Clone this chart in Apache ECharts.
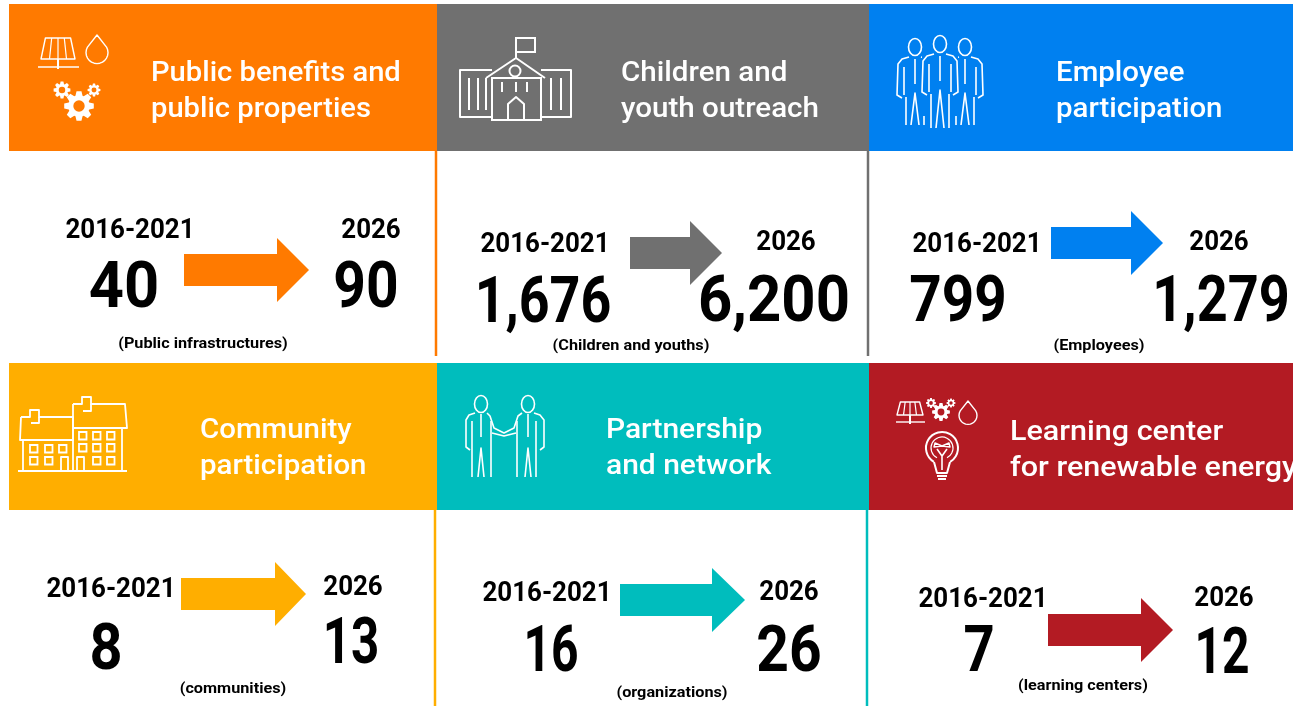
<!DOCTYPE html>
<html>
<head>
<meta charset="utf-8">
<title>Targets</title>
<script src="https://cdn.jsdelivr.net/npm/echarts@6/dist/echarts.min.js"></script>
<style>
  html, body { margin: 0; padding: 0; background: #fff; }
  #container { width: 1293px; height: 706px; }
</style>
</head>
<body>
<div id="container"></div>
<script>
// values
var titles = [
  ['Public benefits and', 'public properties'],
  ['Children and', 'youth outreach'],
  ['Employee', 'participation'],
  ['Community', 'participation'],
  ['Partnership', 'and network'],
  ['Learning center', 'for renewable energy']
];
var baselinePeriod = '2016-2021';
var targetPeriod = '2026';
var baselineValues = ['40', '1,676', '799', '8', '16', '7'];
var targetValues = ['90', '6,200', '1,279', '13', '26', '12'];
var units = ['(Public infrastructures)', '(Children and youths)', '(Employees)', '(communities)', '(organizations)', '(learning centers)'];

var colors = ['#ff7a00', '#707070', '#0080f0', '#ffae00', '#00bdbd', '#b31b23'];

// layout, px
var headers = [[9, 4, 428, 147], [437, 4, 432, 147], [869, 4, 424, 147], [9, 363, 428, 147], [437, 363, 432, 147], [869, 363, 424, 147]];
var titlePos = [[151, 74], [621, 74], [1056, 74], [200, 431], [606, 431], [1010, 433]];
var basePeriodPos = [[130, 231], [545, 245], [977, 245], [111, 590], [547, 594], [983, 600]];
var targetPeriodPos = [[371, 231], [786, 243], [1219, 243], [353, 588], [789, 593], [1224, 599]];
var baseValuePos = [[124, 291], [543, 306], [958, 305], [106, 653], [551, 655], [979, 655]];
var targetValuePos = [[366, 291], [774, 305], [1221, 305], [351, 647], [789, 655], [1222, 657]];
var unitPos = [[203, 344], [631, 346], [1099, 346], [233, 689], [672, 693], [1083, 686]];
// the font is wider than the original one, so every string gets its own squeeze
var titleScale = [1.08, 1.095, 1.09, 1.09, 1.11, 1.13];
var baseValueScale = [0.96, 0.84, 0.885, 0.9, 0.75, 0.85];
var targetValueScale = [0.89, 0.935, 0.845, 0.77, 0.89, 0.75];
// x start, x shaft end, x tip, y centre
var arrows = [[184, 277, 309, 270], [630, 690, 722, 253], [1051, 1131, 1163, 243], [181, 275, 306, 594], [620, 712, 745, 600], [1048, 1141, 1173, 630]];
// x, y top, y bottom, colour index
var dividers = [[436, 151, 356, 0], [868, 151, 356, 1], [435, 510, 706, 3], [867, 510, 706, 4]];

var els = [];

function text(str, x, y, size, weight, color, align, sx) {
  els.push({
    type: 'text',
    x: x, y: y,
    scaleX: sx || 1,
    style: {
      text: str, x: 0, y: 0,
      font: weight + ' ' + size + 'px Roboto',
      fill: color, textAlign: align || 'center', textVerticalAlign: 'middle'
    }
  });
}

function line(points, closed, width, smooth) {
  els.push({
    type: closed ? 'polygon' : 'polyline',
    shape: { points: points, smooth: smooth || 0 },
    style: { stroke: '#fff', fill: null, lineWidth: width || 1.6, lineJoin: 'round' }
  });
}

function circle(cx, cy, r, width) {
  els.push({ type: 'circle', shape: { cx: cx, cy: cy, r: r }, style: { stroke: '#fff', fill: null, lineWidth: width || 1.6 } });
}

function rect(x, y, w, h, width) {
  els.push({ type: 'rect', shape: { x: x, y: y, width: w, height: h }, style: { stroke: '#fff', fill: null, lineWidth: width || 1.6 } });
}

function gear(cx, cy, r, bg) {
  var teeth = 8, pts = [];
  for (var i = 0; i < teeth; i++) {
    var a = i * 2 * Math.PI / teeth;
    var s = Math.PI / teeth;
    pts.push([cx + r * 0.72 * Math.cos(a - s * 0.85), cy + r * 0.72 * Math.sin(a - s * 0.85)]);
    pts.push([cx + r * Math.cos(a - s * 0.42), cy + r * Math.sin(a - s * 0.42)]);
    pts.push([cx + r * Math.cos(a + s * 0.42), cy + r * Math.sin(a + s * 0.42)]);
    pts.push([cx + r * 0.72 * Math.cos(a + s * 0.85), cy + r * 0.72 * Math.sin(a + s * 0.85)]);
  }
  els.push({ type: 'polygon', shape: { points: pts }, style: { fill: '#fff' } });
  els.push({ type: 'circle', shape: { cx: cx, cy: cy, r: r * 0.38 }, style: { fill: bg } });
}

function drop(cx, tipY, r) {
  var cy = tipY + r * 1.6;
  var pts = [[cx, tipY]];
  for (var a = -30; a <= 210; a += 15) {
    pts.push([cx + r * Math.cos(a * Math.PI / 180), cy + r * Math.sin(a * Math.PI / 180)]);
  }
  line(pts, true, 1.4);
}

function solar(x, y, w, h, baseY, bx0, bx1) {
  // x, y is the top left of the panel
  var inset = w * 0.13;
  line([[x + inset, y], [x + w - inset, y], [x + w, y + h], [x, y + h]], true, 1.4);
  for (var i = 1; i < 4; i++) {
    var t = i / 4;
    line([[x + inset + (w - 2 * inset) * t, y], [x + w * t, y + h]], false, 1.2);
  }
  line([[x + w / 2, y + h], [x + w / 2, baseY + 2]], false, 2);
  line([[bx0, baseY], [bx1, baseY]], false, 1.4);
}

function person(cx, top, legLen) {
  els.push({ type: 'ellipse', shape: { cx: cx, cy: top + 9, rx: 6.5, ry: 8.5 }, style: { stroke: '#fff', fill: null, lineWidth: 1.6 } });
  var s = top + 21;
  line([[cx - 6, s - 2], [cx - 13, s], [cx - 17, s + 5], [cx - 18, s + 36], [cx - 13, s + 39]], false, 1.6);
  line([[cx + 6, s - 2], [cx + 13, s], [cx + 17, s + 5], [cx + 18, s + 36], [cx + 13, s + 39]], false, 1.6);
  line([[cx - 11, s + 8], [cx - 11, s + 36]], false, 1.6);
  line([[cx + 11, s + 8], [cx + 11, s + 36]], false, 1.6);
  line([[cx, s], [cx, s + 25]], false, 1.6);
  line([[cx - 9, s + 38], [cx - 9, s + 38 + legLen]], false, 1.6);
  line([[cx + 9, s + 38], [cx + 9, s + 38 + legLen]], false, 1.6);
  line([[cx - 4, s + 38 + legLen], [cx, s + 34], [cx + 4, s + 38 + legLen]], false, 1.6);
}

// header blocks and dividers
headers.forEach(function (h, i) {
  els.push({ type: 'rect', shape: { x: h[0], y: h[1], width: h[2], height: h[3] }, style: { fill: colors[i] } });
});
dividers.forEach(function (d) {
  els.push({ type: 'line', shape: { x1: d[0], y1: d[1], x2: d[0], y2: d[2] }, style: { stroke: colors[d[3]], lineWidth: 2.5 } });
});

// texts and arrows of every panel
titles.forEach(function (lines, i) {
  text(lines[0], titlePos[i][0], titlePos[i][1], 27, 500, '#fff', 'left', titleScale[i]);
  text(lines[1], titlePos[i][0], titlePos[i][1] + 36, 27, 500, '#fff', 'left', titleScale[i]);
  text(baselinePeriod, basePeriodPos[i][0], basePeriodPos[i][1], 27, 700, '#000', 'center', 0.96);
  text(targetPeriod, targetPeriodPos[i][0], targetPeriodPos[i][1], 27, 700, '#000', 'center', 0.96);
  text(baselineValues[i], baseValuePos[i][0], baseValuePos[i][1], 64, 700, '#000', 'center', baseValueScale[i]);
  text(targetValues[i], targetValuePos[i][0], targetValuePos[i][1], 64, 700, '#000', 'center', targetValueScale[i]);
  text(units[i], unitPos[i][0], unitPos[i][1], 14.5, 700, '#000', 'center', 1.12);
  var a = arrows[i];
  els.push({
    type: 'polygon',
    shape: { points: [[a[0], a[3] - 16], [a[1], a[3] - 16], [a[1], a[3] - 32], [a[2], a[3]], [a[1], a[3] + 32], [a[1], a[3] + 16], [a[0], a[3] + 16]] },
    style: { fill: colors[i] }
  });
});

// icon 1: solar panel, drop, gears
solar(41, 38, 34, 21, 67, 38, 79);
drop(97, 35, 11);
gear(62, 90, 8.5, colors[0]);
gear(94, 90, 6.5, colors[0]);
gear(79, 106, 15, colors[0]);

// icon 2: school
rect(516, 38, 19, 14, 2);
line([[516, 38], [516, 58]], false, 2);
line([[486, 78], [516, 58], [545, 78]], false, 2);
rect(492, 78, 49, 42, 2);
line([[492, 70], [460, 70], [460, 117], [492, 117]], false, 2);
line([[541, 70], [571, 70], [571, 117], [541, 117]], false, 2);
circle(515, 71, 5.5, 2);
line([[508, 120], [508, 104], [516, 97], [524, 104], [524, 120]], false, 2);
[469, 478, 486, 551, 561].forEach(function (x) { line([[x, 78], [x, 110]], false, 2); });
[502, 516, 527].forEach(function (x) { line([[x, 82], [x, 92]], false, 2); });

// icon 3: employees
person(915, 38, 28);
person(965, 38, 28);
els.push({ type: 'rect', shape: { x: 922, y: 56, width: 36, height: 60 }, style: { fill: colors[2] } });
person(940, 35, 34);

// icon 4: houses
line([[21, 417], [20, 440], [73, 440], [73, 417], [39, 417], [39, 410], [30, 410], [30, 417], [21, 417]], false, 1.8);
line([[39, 417], [39, 423], [31, 423]], false, 1.8);
line([[73, 404], [82, 404], [82, 397], [91, 397], [91, 404], [125, 404], [127, 428], [73, 428]], false, 1.8);
line([[91, 404], [91, 411], [83, 411]], false, 1.8);
line([[73, 404], [73, 471]], false, 1.8);
line([[23, 440], [23, 471]], false, 1.8);
line([[122, 428], [122, 471]], false, 1.8);
line([[18, 471], [127, 471]], false, 1.8);
[[30, 445], [45, 445], [59, 445], [30, 457], [45, 457], [79, 432], [93, 432], [107, 432], [79, 444], [93, 444], [107, 444], [93, 457], [107, 457]].forEach(function (w) {
  rect(w[0], w[1], 7.5, 7.5, 1.8);
});
line([[61, 471], [61, 457], [68, 457], [68, 471]], false, 1.8);
line([[77, 471], [77, 457], [84, 457], [84, 471]], false, 1.8);

// icon 5: handshake
els.push({ type: 'ellipse', shape: { cx: 481, cy: 404, rx: 6.5, ry: 8.5 }, style: { stroke: '#fff', fill: null, lineWidth: 1.6 } });
els.push({ type: 'ellipse', shape: { cx: 528, cy: 404, rx: 6.5, ry: 8.5 }, style: { stroke: '#fff', fill: null, lineWidth: 1.6 } });
line([[475, 413], [469, 415], [466, 420], [466, 447], [470, 450]], false, 1.6);
line([[487, 413], [490, 416], [494, 428], [504, 433], [514, 428], [518, 416], [522, 413]], false, 1.6);
line([[492, 433], [504, 436], [516, 433]], false, 1.6);
line([[534, 413], [540, 415], [544, 420], [544, 447], [540, 450]], false, 1.6);
[472, 491, 517, 536].forEach(function (x) { line([[x, 421], [x, 477]], false, 1.6); });
[481, 528].forEach(function (x) {
  line([[x, 414], [x, 437]], false, 1.6);
  line([[x - 3, 477], [x, 448], [x + 3, 477]], false, 1.6);
});

// icon 6: solar panel, gears, drop, bulb
solar(897, 402, 26, 13, 422, 896, 925);
gear(931, 403, 5, colors[5]);
gear(951, 403, 4.5, colors[5]);
gear(941, 412, 9, colors[5]);
drop(968, 401, 9);
els.push({ type: 'arc', shape: { cx: 942, cy: 448, r: 16, startAngle: Math.PI * 0.67, endAngle: Math.PI * 0.33, clockwise: true }, style: { stroke: '#fff', fill: null, lineWidth: 2 } });
els.push({ type: 'arc', shape: { cx: 942, cy: 448, r: 11, startAngle: Math.PI * 0.65, endAngle: Math.PI * 0.35, clockwise: true }, style: { stroke: '#fff', fill: null, lineWidth: 1.2 } });
line([[934, 462], [937, 473], [947, 473], [950, 462]], false, 2);
line([[937, 476], [947, 476]], false, 2);
line([[938, 479], [946, 479]], false, 2);
line([[942, 470], [942, 456], [937, 449]], false, 1.6);
line([[942, 456], [947, 449]], false, 1.6);
line([[942, 446], [935, 443], [934, 447], [942, 446], [949, 443], [950, 447], [942, 446]], false, 1.4);

var myChart = echarts.init(document.getElementById('container'));
myChart.setOption({
  backgroundColor: '#fff',
  animation: false,
  graphic: { elements: els }
});
</script>
</body>
</html>
